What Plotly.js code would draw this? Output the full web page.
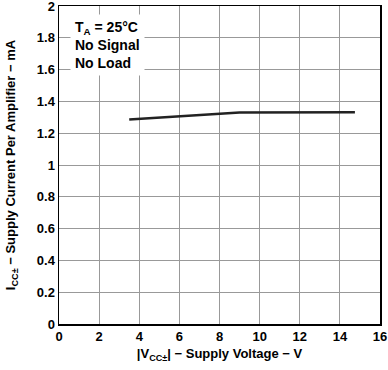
<!DOCTYPE html>
<html><head><meta charset="utf-8">
<script src="https://cdn.plot.ly/plotly-3.0.1.min.js"></script>
<style>body{margin:0;background:#fff}#c{width:388px;height:370px}</style>
</head><body><div id="c"></div>
<script>
const supplyVoltage = [3.5, 9.0, 14.75];
const supplyCurrent = [1.286, 1.330, 1.332];
const xTicks = [0, 2, 4, 6, 8, 10, 12, 14, 16];
const yTicks = [0, 0.2, 0.4, 0.6, 0.8, 1, 1.2, 1.4, 1.6, 1.8, 2];

const font = {family: 'Liberation Sans, Arial, sans-serif', size: 13, color: '#000', weight: 'bold'};
const noteFont = {family: 'Liberation Sans, Arial, sans-serif', size: 14, color: '#000', weight: 'bold'};
Plotly.newPlot('c', [{
  x: supplyVoltage, y: supplyCurrent, mode: 'lines', type: 'scatter',
  line: {color: '#222', width: 2.5}, showlegend: false, hoverinfo: 'none'
}], {
  width: 388, height: 370,
  margin: {l: 59, r: 8, t: 6, b: 46},
  font: font,
  xaxis: {range: [0, 16], tickvals: xTicks, ticktext: xTicks.map(String),
    showgrid: true, gridcolor: '#999', zeroline: false,
    showline: true, linecolor: '#000', linewidth: 1.5, mirror: true,
    tickfont: font, ticklabeloverflow: 'allow',
    title: {text: '|V<sub>CC±</sub>| − Supply Voltage − V', font: font, standoff: 6}},
  yaxis: {range: [0, 2], tickvals: yTicks, ticktext: yTicks.map(String),
    showgrid: true, gridcolor: '#999', zeroline: false,
    showline: true, linecolor: '#000', linewidth: 1.5, mirror: true,
    tickfont: font, ticklabeloverflow: 'allow',
    title: {text: 'I<sub>CC±</sub> − Supply Current Per Amplifier − mA', font: font, standoff: 18}},
  annotations: [{xref: 'x', yref: 'y', x: 0.55, y: 1.95, xanchor: 'left', yanchor: 'top',
    align: 'left', showarrow: false, font: noteFont, bgcolor: '#fff', borderpad: 4,
    text: 'T<sub>A</sub> = 25°C<br>No Signal<br>No Load'}]
}, {displayModeBar: false, staticPlot: true});
</script></body></html>
